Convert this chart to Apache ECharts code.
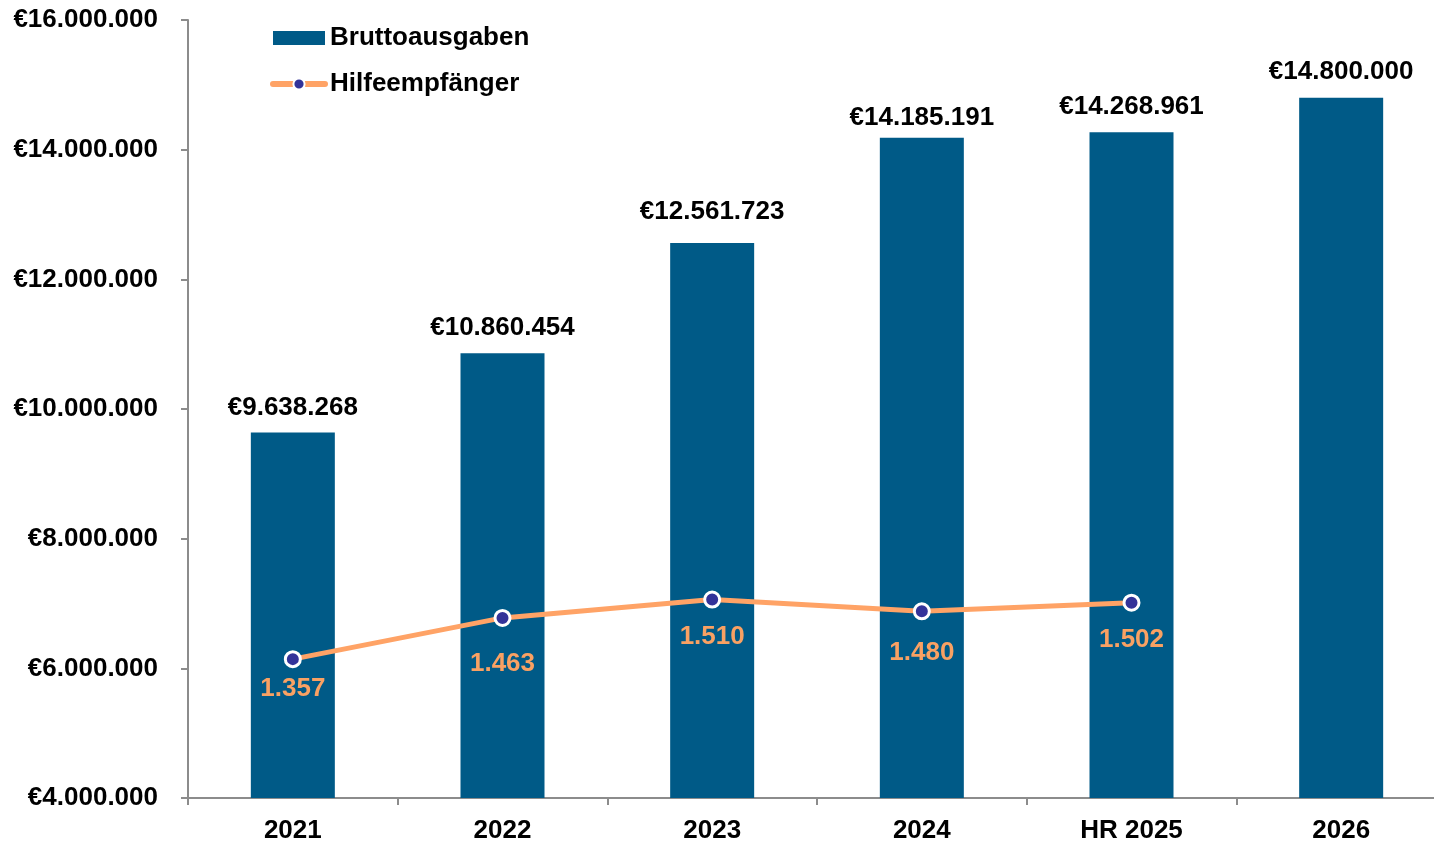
<!DOCTYPE html>
<html>
<head>
<meta charset="utf-8">
<script src="https://cdn.jsdelivr.net/npm/echarts@6/dist/echarts.min.js"></script>
<style>html,body{margin:0;padding:0;background:#fff}#c{width:1434px;height:842px}</style>
</head>
<body>
<div id="c"></div>
<script>
var categories = ['2021', '2022', '2023', '2024', 'HR 2025', '2026'];
var bruttoausgaben = [9638268, 10860454, 12561723, 14185191, 14268961, 14800000];
var hilfeempfaenger = [1357, 1463, 1510, 1480, 1502, null];
var yTicks = [4000000, 6000000, 8000000, 10000000, 12000000, 14000000, 16000000];
// label placement tweaks (style only)
var lineLabelDistance = [8, 24, 15, 20, 15, 8];
var barLabelDistance = [12, 12, 18, 7, 12, 13];

function fmt(v) {
  return String(Math.round(v)).replace(/\B(?=(\d{3})+(?!\d))/g, '.');
}
var FONT = '"Liberation Sans", Arial, sans-serif';
var lineData = hilfeempfaenger.map(function (v, i) {
  return { value: v, label: { distance: lineLabelDistance[i] } };
});
var barData = bruttoausgaben.map(function (v, i) {
  return { value: v, label: { distance: barLabelDistance[i] } };
});
var chart = echarts.init(document.getElementById('c'));
chart.setOption({
  animation: false,
  textStyle: { fontFamily: FONT },
  legend: {
    orient: 'vertical',
    left: 270, top: 25,
    padding: 0,
    itemWidth: 52, itemHeight: 14,
    itemGap: 20,
    textStyle: { fontFamily: FONT, fontSize: 26, fontWeight: 'bold', color: '#000' },
    data: [
      { name: 'Bruttoausgaben', icon: 'rect' },
      { name: 'Hilfeempfänger', lineStyle: { width: 6, cap: 'round' } }
    ]
  },
  grid: { left: 188, top: 20, width: 1258, bottom: 44, containLabel: false, outerBoundsMode: 'none' },
  xAxis: {
    type: 'category',
    data: categories,
    axisLine: { lineStyle: { color: '#8c8c8c', width: 2 } },
    axisTick: { show: true, length: 7, lineStyle: { color: '#8c8c8c', width: 2 } },
    axisLabel: { margin: 20, fontFamily: FONT, fontSize: 26, fontWeight: 'bold', color: '#000' }
  },
  yAxis: [{
    type: 'value',
    min: yTicks[0], max: yTicks[yTicks.length - 1], interval: 2000000,
    splitLine: { show: false },
    axisLine: { show: true, lineStyle: { color: '#8c8c8c', width: 2 } },
    axisTick: { show: true, length: 7, lineStyle: { color: '#8c8c8c', width: 2 } },
    axisLabel: { margin: 30, fontFamily: FONT, fontSize: 26, fontWeight: 'bold', color: '#000',
      formatter: function (v) { return '€' + fmt(v); } }
  }, {
    type: 'value', min: 1000, max: 3000, show: false, splitLine: { show: false }
  }],
  series: [{
    name: 'Bruttoausgaben',
    type: 'bar',
    data: barData,
    barWidth: 84,
    itemStyle: { color: '#005A87' },
    label: { show: true, position: 'top', distance: 12, fontFamily: FONT, fontSize: 26, fontWeight: 'bold', color: '#000',
      formatter: function (p) { return '€' + fmt(p.value); } }
  }, {
    name: 'Hilfeempfänger',
    type: 'line',
    yAxisIndex: 1,
    data: lineData,
    symbol: 'circle',
    symbolSize: 15,
    lineStyle: { color: '#FFA366', width: 5 },
    itemStyle: { color: '#333399', borderColor: '#fff', borderWidth: 3 },
    label: { show: true, position: 'bottom', distance: 8, fontFamily: FONT, fontSize: 26, fontWeight: 'bold', color: '#F9A163',
      formatter: function (p) { return fmt(p.value); } }
  }]
});
</script>
</body>
</html>
